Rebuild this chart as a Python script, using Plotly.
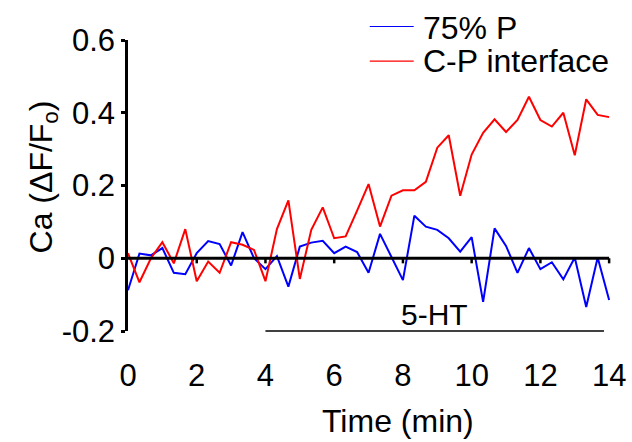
import plotly.graph_objects as go

# Calcium imaging traces, one frame every 20 s (1/3 min)
FRAME_INTERVAL_MIN = 1 / 3
n_frames = 43
time_min = [i * FRAME_INTERVAL_MIN for i in range(n_frames)]

ca_75p = [-0.088, 0.013, 0.008, 0.028, -0.040, -0.044, 0.014, 0.047, 0.039, -0.020,
          0.072, 0.000, -0.030, 0.006, -0.078, 0.032, 0.043, 0.048, 0.014, 0.032,
          0.017, -0.040, 0.067, 0.004, -0.060, 0.117, 0.087, 0.078, 0.055, 0.018,
          0.058, -0.120, 0.082, 0.034, -0.040, 0.028, -0.030, -0.011, -0.058, 0.002,
          -0.134, 0.002, -0.115]

ca_cp_interface = [0.014, -0.066, 0.000, 0.044, -0.014, 0.080, -0.063, -0.009, -0.040, 0.044,
                   0.037, 0.023, -0.063, 0.080, 0.159, -0.057, 0.078, 0.140, 0.055, 0.060,
                   0.131, 0.204, 0.087, 0.172, 0.187, 0.187, 0.210, 0.304, 0.338, 0.172,
                   0.285, 0.345, 0.382, 0.347, 0.380, 0.444, 0.380, 0.362, 0.400, 0.283,
                   0.437, 0.394, 0.388]

series_names = ["75% P", "C-P interface"]
series_colors = ["#0000FF", "#FF0000"]

x_ticks = [0, 2, 4, 6, 8, 10, 12, 14]
y_ticks = [-0.2, 0.0, 0.2, 0.4, 0.6]
y_tick_labels = ["-0.2", "0", "0.2", "0.4", "0.6"]

# 5-HT application period (min)
drug_label = "5-HT"
drug_start, drug_end = 4.0, 13.85

# ---- figure geometry (pixels) ----
W, H = 632, 442
ML, MR, MT, MB = 128, 15.5, 39.5, 111.2
PW, PH = W - ML - MR, H - MT - MB
FONT = "Liberation Sans, Arial, sans-serif"
FS_TICK = 31
FS_TEXT = 32


def px_x(px):
    return (px - ML) / PW


def px_y(py):
    return (H - MB - py) / PH


fig = go.Figure()
for name, ys, col in zip(series_names, [ca_75p, ca_cp_interface], series_colors):
    fig.add_trace(go.Scatter(x=time_min, y=ys, mode="lines", name=name,
                             line=dict(color=col, width=2), showlegend=False))

shapes = []
# baseline at zero with small downward ticks
shapes.append(dict(type="line", xref="x", yref="y", x0=0, x1=x_ticks[-1], y0=0, y1=0,
                   line=dict(color="black", width=3), layer="above"))
for xt in x_ticks[1:]:
    shapes.append(dict(type="line", xref="x", yref="y", x0=xt, x1=xt, y0=0, y1=-0.014,
                       line=dict(color="black", width=2.5), layer="above"))
# drug application bar
shapes.append(dict(type="line", xref="x", yref="paper", x0=drug_start, x1=drug_end,
                   y0=0, y1=0, line=dict(color="black", width=1.3)))

# legend keys
legend_rows_px = [26, 60.7]
for col, ypx in zip(series_colors, legend_rows_px):
    shapes.append(dict(type="line", xref="paper", yref="paper",
                       x0=px_x(370), x1=px_x(414), y0=px_y(ypx), y1=px_y(ypx),
                       line=dict(color=col, width=1.2)))

annotations = []
for name, ypx in zip(series_names, [27, 61]):
    annotations.append(dict(text=name, xref="paper", yref="paper", x=px_x(421), y=px_y(ypx),
                            xanchor="left", yanchor="middle", showarrow=False,
                            font=dict(family=FONT, size=FS_TEXT, color="black")))
annotations.append(dict(text=drug_label, xref="x", yref="paper",
                        x=(drug_start + drug_end) / 2, y=px_y(314),
                        xanchor="center", yanchor="middle", showarrow=False,
                        font=dict(family=FONT, size=30, color="black")))
annotations.append(dict(text="Time (min)", xref="paper", yref="paper", x=px_x(398), y=px_y(421),
                        xanchor="center", yanchor="middle", showarrow=False,
                        font=dict(family=FONT, size=FS_TEXT, color="black")))
annotations.append(dict(text="Ca (ΔF/F<sub>o</sub>)", xref="paper", yref="paper",
                        x=px_x(43), y=px_y(177), textangle=-90,
                        xanchor="center", yanchor="middle", showarrow=False,
                        font=dict(family=FONT, size=FS_TEXT, color="black")))

fig.update_layout(
    width=W, height=H,
    margin=dict(l=ML, r=MR, t=MT, b=MB, pad=0, autoexpand=False),
    paper_bgcolor="white", plot_bgcolor="white",
    font=dict(family=FONT, size=FS_TICK, color="black"),
    shapes=shapes, annotations=annotations,
    xaxis=dict(range=[0, 14.2], showline=False, showgrid=False, zeroline=False,
               automargin=False,
               tickvals=x_ticks, ticks="outside", ticklen=17, tickcolor="rgba(0,0,0,0)",
               tickfont=dict(family=FONT, size=FS_TICK, color="black")),
    yaxis=dict(range=[-0.2, 0.6], showline=True, linecolor="black", linewidth=2.5,
               showgrid=False, zeroline=False, automargin=False,
               tickvals=y_ticks, ticktext=y_tick_labels, ticks="outside", ticklen=4,
               tickwidth=2.5, tickcolor="black",
               tickfont=dict(family=FONT, size=FS_TICK, color="black")),
)

fig.write_html("out.html")
